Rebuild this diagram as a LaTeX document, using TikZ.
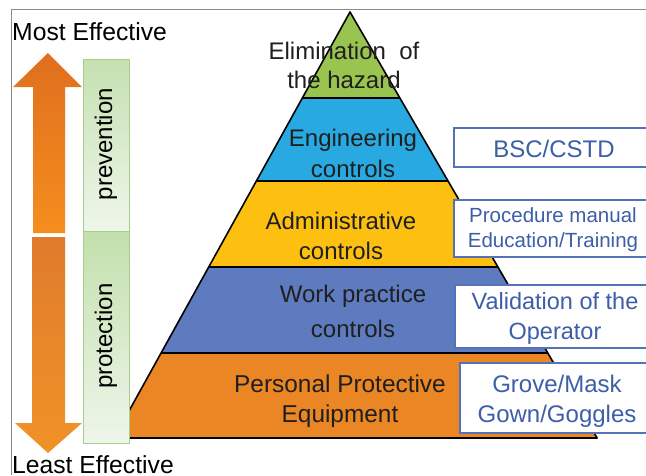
\documentclass[tikz,border=0pt]{standalone}
\usepackage{fontspec}
\setmainfont{Liberation Sans}
\definecolor{lgreen}{HTML}{9AC450}
\definecolor{lblue}{HTML}{28A9E1}
\definecolor{lyellow}{HTML}{FEC010}
\definecolor{lslate}{HTML}{5E7BC0}
\definecolor{lorange}{HTML}{EA8624}
\definecolor{boxblue}{HTML}{5571B9}
\definecolor{txtblue}{HTML}{3D5EA8}
\definecolor{gborder}{HTML}{A3D08A}
\definecolor{frameg}{HTML}{8A8A8A}
\definecolor{upTop}{HTML}{E06E1E}
\definecolor{upBot}{HTML}{F58E1E}
\definecolor{dnTop}{HTML}{DF7B2C}
\definecolor{dnBot}{HTML}{F19227}
\definecolor{gTopA}{HTML}{C5E1B1}
\definecolor{gTopB}{HTML}{C2DFAC}
\definecolor{gBot}{HTML}{EEF6EA}
\begin{document}
\begin{tikzpicture}[x=1pt,y=-1pt,
  layer/.style={draw=black,line width=1.6pt,line join=round},
  lbl/.style={align=center,text=black!88,inner sep=0pt},
  sidebox/.style={draw=boxblue,line width=2pt,fill=white},
  sidetxt/.style={align=center,text=txtblue,inner sep=0pt},
  gline/.style={draw=gborder,line width=1pt}]
\useasboundingbox (0,0) rectangle (646,475);
\clip (0,0) rectangle (646,475);
% frame
\draw[frameg,line width=1pt] (11,475) -- (11,9.5) -- (650,9.5);
% pyramid coordinates
\coordinate (apex) at (350,12);
\coordinate (l1) at (302.4,98);  \coordinate (r1) at (399.9,98);
\coordinate (l2) at (256.4,181); \coordinate (r2) at (448.0,181);
\coordinate (l3) at (208.7,267); \coordinate (r3) at (497.9,267);
\coordinate (l4) at (161.1,353); \coordinate (r4) at (547.8,353);
\coordinate (l5) at (114.0,438); \coordinate (r5) at (597.1,438);
\fill[lorange] (l4) -- (r4) -- (r5) -- (l5) -- cycle;
\fill[lslate] (l3) -- (r3) -- (r4) -- (l4) -- cycle;
\fill[lyellow] (l2) -- (r2) -- (r3) -- (l3) -- cycle;
\fill[lblue] (l1) -- (r1) -- (r2) -- (l2) -- cycle;
\fill[lgreen] (apex) -- (r1) -- (l1) -- cycle;
\draw[layer] (l1) -- (r1) (l2) -- (r2) (l3) -- (r3) (l4) -- (r4);
\draw[layer] (l5) -- (apex) -- (r5) -- cycle;
% pyramid labels
\node[lbl,font=\fontsize{24}{29}\selectfont] (elim) at (344,65) {Elimination\ \ of\\the hazard};
\node[lbl,font=\fontsize{24}{31}\selectfont] (eng) at (353,153) {Engineering\\controls};
\node[lbl,font=\fontsize{24}{30}\selectfont] (adm) at (341,236) {Administrative\\controls};
\node[lbl,font=\fontsize{24}{35}\selectfont] (work) at (353,311) {Work practice\\controls};
\node[lbl,font=\fontsize{24.4}{30}\selectfont] (ppe) at (340,401) {Personal Protective\\Equipment};
% right boxes
\draw[sidebox] (454,128) rectangle (660,167);
\node[sidetxt,font=\fontsize{24}{29}\selectfont] (bsc) at (554,149) {BSC/CSTD};
\draw[sidebox] (454,200) rectangle (660,257);
\node[sidetxt,font=\fontsize{20.5}{25}\selectfont] (proc) at (553,230) {Procedure manual\\Education/Training};
\draw[sidebox] (455,285) rectangle (660,348);
\node[sidetxt,font=\fontsize{23.5}{30}\selectfont] (valid) at (555,318) {Validation of the\\Operator};
\draw[sidebox] (460,363) rectangle (660,433);
\node[sidetxt,font=\fontsize{24}{30}\selectfont] (grove) at (557,401) {Grove/Mask\\Gown/Goggles};
% arrows
\shade[top color=upTop, bottom color=upBot]
  (48,53) -- (82,87) -- (65,87) -- (65,233) -- (33,233) -- (33,87) -- (13,87) -- cycle;
\shade[top color=dnTop, bottom color=dnBot]
  (32,237) -- (65,237) -- (65,423) -- (82,423) -- (48,453) -- (15,423) -- (32,423) -- cycle;
% green boxes
\shade[top color=gTopA, bottom color=gBot] (83,59) rectangle (129,231);
\shade[top color=gTopB, bottom color=gBot] (83,231) rectangle (129,443);
\draw[gline] (83,59) rectangle (129,231) (83,231) rectangle (129,443);
\node[rotate=90,inner sep=0pt,font=\fontsize{24}{29}\selectfont] (prev) at (106,144) {prevention};
\node[rotate=90,inner sep=0pt,font=\fontsize{24}{29}\selectfont] (prot) at (106,336) {protection};
% effectiveness labels
\node[anchor=base west,inner sep=0pt,font=\fontsize{24.7}{29}\selectfont] (most) at (12,40) {Most Effective};
\node[anchor=base west,inner sep=0pt,font=\fontsize{24.7}{29}\selectfont] (least) at (12,473.5) {Least Effective};
\end{tikzpicture}
\end{document}
